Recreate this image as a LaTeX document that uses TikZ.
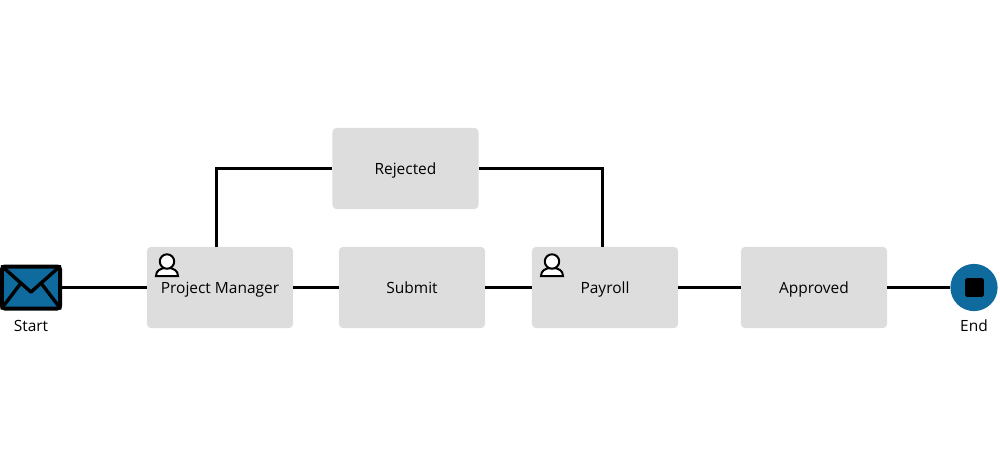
\documentclass[tikz,border=0pt]{standalone}
\usepackage{fontspec}
\setmainfont{Open Sans}
\tikzset{
  taskbox/.style={fill=boxgray,rounded corners=0.1cm,minimum width=3.65cm,minimum height=2.03cm,inner sep=0pt,text height=0.4cm,text depth=0.125cm,font=\fontsize{11}{13}\selectfont},
  flowline/.style={line width=0.075cm,draw=black},
  envline/.style={line width=0.085cm,line cap=round,line join=round,shorten <=0.07cm},
  caption/.style={font=\fontsize{11}{13}\selectfont,inner sep=0pt,anchor=base},
  usericon/.style={line width=0.05cm,draw=black,fill=white}
}
\definecolor{boxgray}{HTML}{DDDDDD}
\definecolor{eventblue}{HTML}{0F6A9E}
\begin{document}
\begin{tikzpicture}[x=0.025cm,y=-0.025cm]
\useasboundingbox (0,0) rectangle (1000,450);

\node[taskbox] (pm) at (220,287.5) {Project Manager};
\node[taskbox] (submit) at (412,287.5) {Submit};
\node[taskbox] (payroll) at (605,287.5) {Payroll};
\node[taskbox] (approved) at (814,287.5) {Approved};
\node[taskbox] (rejected) at (405.5,168.5) {Rejected};

\node[draw=black,fill=eventblue,line width=0.1cm,rounded corners=0.07cm,minimum width=1.45cm,minimum height=1.05cm,inner sep=0pt] (start) at (31,287.5) {};
\node[circle,fill=eventblue,minimum size=1.18cm,inner sep=0pt] (end) at (974,287.5) {};
\node[fill=black,rounded corners=0.04cm,minimum size=0.47cm,inner sep=0pt] (stop) at (974.5,287.5) {};

\node[caption] (startlabel) at (31,331.5) {Start};
\node[caption] (endlabel) at (974,331.5) {End};

\coordinate (pmtop) at (216,247);
\coordinate (payrolltop) at (602,247);
\coordinate (flapmid) at (31,292);
\coordinate (flapleft) at (21,283);
\coordinate (flapright) at (41,283);

\draw[flowline] (start) -- (pm);
\draw[flowline] (pm) -- (submit);
\draw[flowline] (submit) -- (payroll);
\draw[flowline] (payroll) -- (approved);
\draw[flowline] (approved) -- (end);
\draw[flowline] (pmtop) |- (rejected);
\draw[flowline] (payrolltop) |- (rejected);

% envelope flap
\draw[envline] (start.north west) -- (flapmid);
\draw[envline] (start.north east) -- (flapmid);
\draw[envline] (start.south west) -- (flapleft);
\draw[envline] (start.south east) -- (flapright);

% person icons
\foreach \bx in {167,552}{
  \draw[usericon] (\bx-11,276) .. controls (\bx-11,270) and (\bx-6,269) .. (\bx-3,268) -- (\bx+3,268) .. controls (\bx+6,269) and (\bx+11,270) .. (\bx+11,276) -- cycle;
  \draw[usericon] (\bx,261.5) circle (0.18cm);
}
\end{tikzpicture}
\end{document}
